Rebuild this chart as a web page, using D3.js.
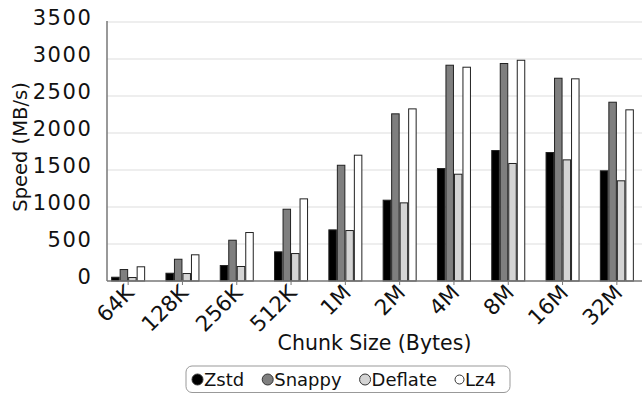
<!DOCTYPE html>
<html>
<head>
<meta charset="utf-8">
<script src="https://cdn.jsdelivr.net/npm/d3@7"></script>
<style>
  html, body { margin: 0; padding: 0; background: #fff; }
  svg { display: block; font-family: "DejaVu Sans", "Lato", sans-serif; }
</style>
</head>
<body>
<svg id="chart" width="642" height="395"></svg>
<script>
// Decompression speed per chunk size, one array per codec (MB/s)
const chunkSizes = ["64K", "128K", "256K", "512K", "1M", "2M", "4M", "8M", "16M", "32M"];
const codecs = ["Zstd", "Snappy", "Deflate", "Lz4"];
const zstd    = [51, 105, 209, 394, 691, 1092, 1520, 1763, 1736, 1489];
const snappy  = [155, 294, 551, 970, 1564, 2259, 2916, 2939, 2740, 2416];
const deflate = [47, 101, 196, 371, 682, 1056, 1443, 1588, 1637, 1354];
const lz4     = [192, 354, 655, 1110, 1700, 2326, 2889, 2983, 2732, 2313];
const yTicks  = [0, 500, 1000, 1500, 2000, 2500, 3000, 3500];

const seriesValues = { Zstd: zstd, Snappy: snappy, Deflate: deflate, Lz4: lz4 };
const fills  = { Zstd: "#000000", Snappy: "#7f7f7f", Deflate: "#d4d4d4", Lz4: "#ffffff" };

const svg = d3.select("#chart");
const plotLeft = 107, plotRight = 642, plotTop = 22, plotBottom = 281;

const x0 = d3.scaleBand().domain(chunkSizes).range([101, 644]).padding(0);
const x1 = d3.scaleBand().domain(codecs).range([-17, 17]).padding(0);
const y = d3.scaleLinear().domain([0, 3500]).range([plotBottom, plotTop]);
const center = d => x0(d) + x0.bandwidth() / 2;

// horizontal grid
svg.append("g").selectAll("line").data(yTicks.slice(1)).join("line")
  .attr("x1", plotLeft).attr("x2", plotRight)
  .attr("y1", d => y(d)).attr("y2", d => y(d))
  .attr("stroke", "#e8e8e8").attr("stroke-width", 1.5);

// y tick labels
svg.append("g").selectAll("text").data(yTicks).join("text")
  .attr("x", 92.5).attr("y", d => y(d) + 2.5)
  .attr("text-anchor", "end")
  .attr("font-size", 21).attr("letter-spacing", 1.6)
  .attr("fill", "#111")
  .text(d => d);

// bars
const groups = svg.append("g").selectAll("g").data(chunkSizes).join("g")
  .attr("transform", d => `translate(${center(d)},0)`);
groups.selectAll("rect")
  .data((c, i) => codecs.map(k => ({ key: k, value: seriesValues[k][i] })))
  .join("rect")
  .attr("x", d => x1(d.key) + 0.5)
  .attr("width", x1.bandwidth() - 1)
  .attr("y", d => y(d.value))
  .attr("height", d => plotBottom - y(d.value))
  .attr("fill", d => fills[d.key])
  .attr("stroke", "#222").attr("stroke-width", 1);

// axis lines
svg.append("line").attr("x1", plotLeft).attr("x2", plotLeft).attr("y1", plotTop - 1).attr("y2", plotBottom)
  .attr("stroke", "#777").attr("stroke-width", 1.5);
svg.append("line").attr("x1", plotLeft).attr("x2", plotRight).attr("y1", plotBottom).attr("y2", plotBottom)
  .attr("stroke", "#777").attr("stroke-width", 1.5);

// x ticks
svg.append("g").selectAll("line").data(chunkSizes).join("line")
  .attr("x1", center).attr("x2", center)
  .attr("y1", plotBottom).attr("y2", plotBottom + 4)
  .attr("stroke", "#777").attr("stroke-width", 1);

// x tick labels, rotated
svg.append("g").selectAll("text").data(chunkSizes).join("text")
  .attr("transform", d => `translate(${center(d) + 7},294) rotate(-45)`)
  .attr("text-anchor", "end")
  .attr("font-size", 21.5).attr("fill", "#111")
  .text(d => d);

// axis titles
svg.append("text")
  .attr("transform", "translate(26.5,147) rotate(-90)")
  .attr("text-anchor", "middle").attr("font-size", 19.5).attr("fill", "#111")
  .text("Speed (MB/s)");
svg.append("text")
  .attr("x", (plotLeft + plotRight) / 2).attr("y", 350)
  .attr("text-anchor", "middle").attr("font-size", 20.5).attr("fill", "#111")
  .text("Chunk Size (Bytes)");

// legend
const legend = svg.append("g");
legend.append("rect")
  .attr("x", 186).attr("y", 366).attr("width", 324).attr("height", 26.5)
  .attr("rx", 6).attr("fill", "#fff").attr("stroke", "#999").attr("stroke-width", 1);
let cursor = 192;
codecs.forEach(k => {
  const r = k === "Lz4" ? 4.5 : 5.5;
  legend.append("circle").attr("cx", cursor + r).attr("cy", 379.5).attr("r", r)
    .attr("fill", fills[k]).attr("stroke", "#333").attr("stroke-width", 1);
  const t = legend.append("text").attr("x", cursor + 2 * r + 1).attr("y", 386)
    .attr("font-size", 18).attr("fill", "#111").text(k);
  cursor = cursor + 2 * r + 1 + t.node().getComputedTextLength() + 18;
});
</script>
</body>
</html>
